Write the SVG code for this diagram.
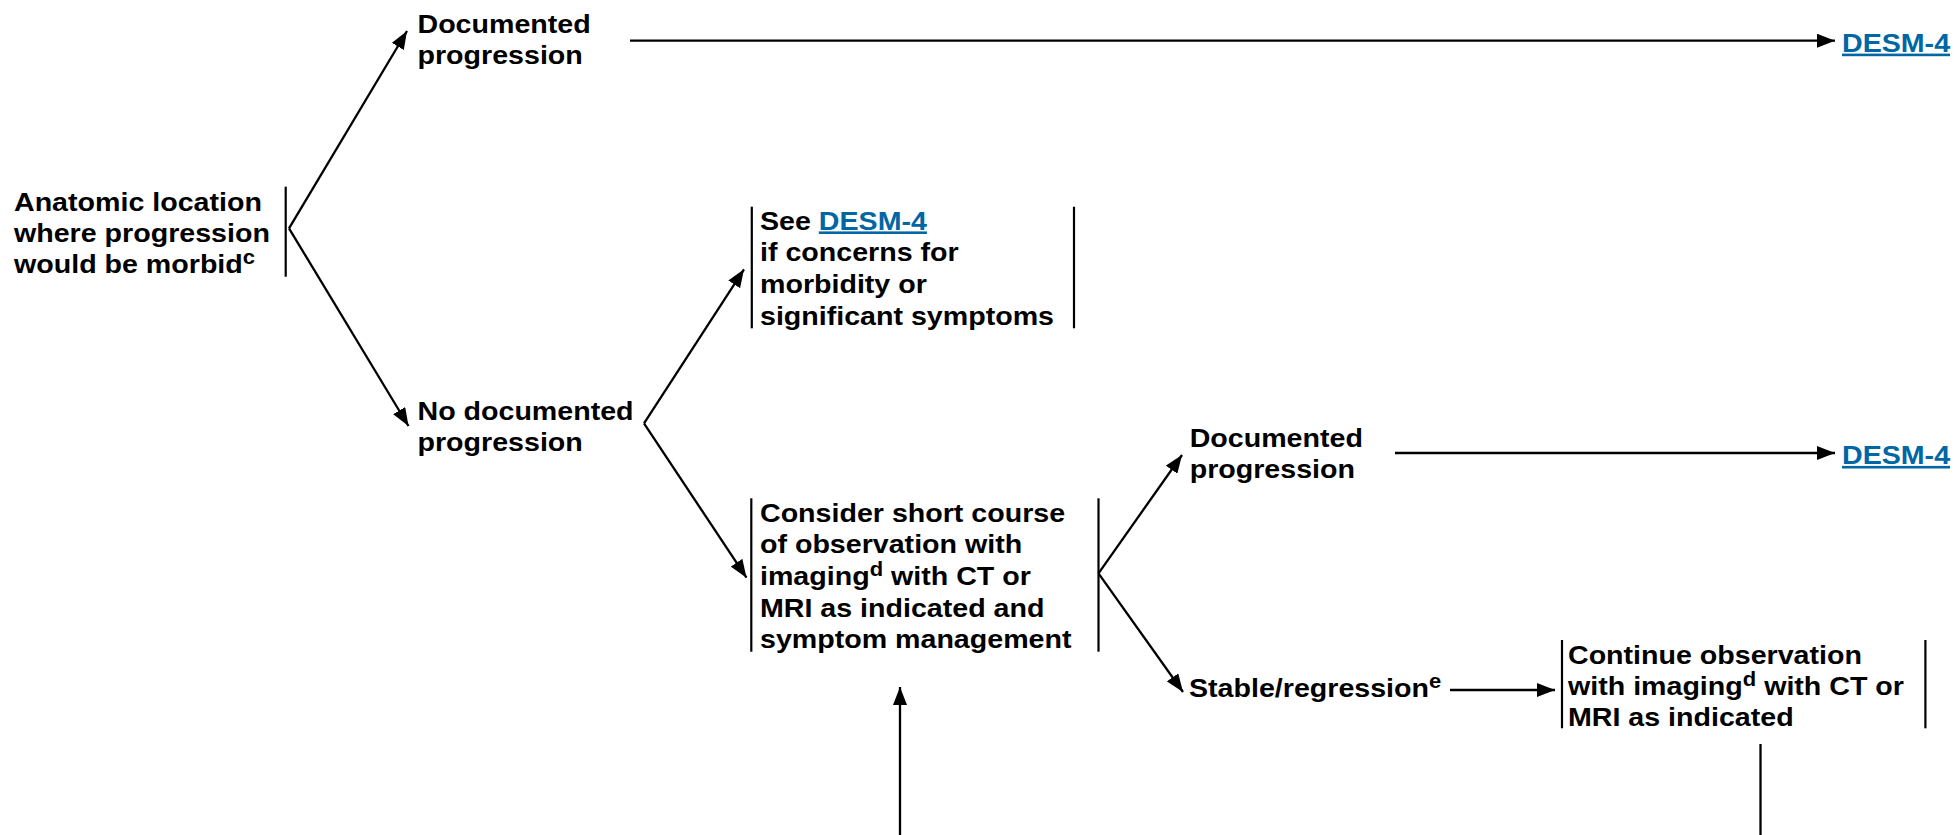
<svg xmlns="http://www.w3.org/2000/svg" width="1954" height="835" viewBox="0 0 1954 835">
  <style>
    .t { font-family: "Liberation Sans", Arial, Helvetica, sans-serif; font-weight: bold; font-size: 26px; fill: #000; }
    .sup { font-size: 20px; }
    .lk { fill: #0066A4; text-decoration: underline; }
    .bar { stroke: #000; stroke-width: 2.2; fill: none; }
    .cn { stroke: #000; stroke-width: 2.3; fill: none; }
    .ar { marker-end: url(#arrow); }
  </style>
  <defs>
    <marker id="arrow" markerUnits="userSpaceOnUse" markerWidth="18" markerHeight="14" refX="18" refY="7" orient="auto">
      <path d="M0,0 L18,7 L0,14 Z" fill="#000"/>
    </marker>
  </defs>
  <rect width="1954" height="835" fill="#fff"/>

  <!-- connectors -->
  <g id="connectors">
    <line class="cn ar" x1="289" y1="228.3" x2="407" y2="31"/>
    <line class="cn ar" x1="289" y1="228.3" x2="408.5" y2="426"/>
    <line class="cn ar" x1="630" y1="40.7" x2="1835" y2="40.7"/>
    <line class="cn ar" x1="644" y1="423.3" x2="744" y2="269.3"/>
    <line class="cn ar" x1="644" y1="423.3" x2="746.5" y2="577.7"/>
    <line class="cn ar" x1="1098.5" y1="573.3" x2="1182" y2="455"/>
    <line class="cn ar" x1="1098.5" y1="573.3" x2="1183" y2="692"/>
    <line class="cn ar" x1="1395" y1="453" x2="1835" y2="453"/>
    <line class="cn ar" x1="1450" y1="690" x2="1555" y2="690"/>
    <line class="cn" x1="1760.5" y1="744" x2="1760.5" y2="835"/>
    <line class="cn ar" x1="900" y1="835" x2="900" y2="687"/>
  </g>

  <g id="anatomic-location">
    <text class="t" transform="translate(14 210.7) scale(1.1 1)">
      <tspan x="0" y="0">Anatomic location</tspan>
      <tspan x="0" y="31.3">where progression</tspan>
      <tspan x="0" y="62.6">would be morbid<tspan class="sup" dy="-9">c</tspan></tspan>
    </text>
    <line class="bar" x1="285.7" y1="186.7" x2="285.7" y2="276.7"/>
  </g>

  <g id="documented-progression-1">
    <text class="t" transform="translate(417.5 33.3) scale(1.1 1)">
      <tspan x="0" y="0">Documented</tspan>
      <tspan x="0" y="30.7">progression</tspan>
    </text>
  </g>

  <g id="desm4-link-1">
    <text class="t lk" transform="translate(1842 51.7) scale(1.1 1)">DESM-4</text>
  </g>

  <g id="no-documented-progression">
    <text class="t" transform="translate(417.5 420) scale(1.1 1)">
      <tspan x="0" y="0">No documented</tspan>
      <tspan x="0" y="31">progression</tspan>
    </text>
  </g>

  <g id="see-desm4">
    <line class="bar" x1="751.8" y1="206.7" x2="751.8" y2="328.3"/>
    <line class="bar" x1="1074" y1="206.7" x2="1074" y2="328.3"/>
    <text class="t" transform="translate(760 229.5) scale(1.1 1)">
      <tspan x="0" y="0">See <tspan class="lk">DESM-4</tspan></tspan>
      <tspan x="0" y="31.7">if concerns for</tspan>
      <tspan x="0" y="63.4">morbidity or</tspan>
      <tspan x="0" y="95.1">significant symptoms</tspan>
    </text>
  </g>

  <g id="short-observation">
    <line class="bar" x1="751.3" y1="498.3" x2="751.3" y2="651.7"/>
    <line class="bar" x1="1098.5" y1="498.3" x2="1098.5" y2="651.7"/>
    <text class="t" transform="translate(760 521.7) scale(1.1 1)">
      <tspan x="0" y="0">Consider short course</tspan>
      <tspan x="0" y="31.7">of observation with</tspan>
      <tspan x="0" y="63.4">imaging<tspan class="sup" dy="-9">d</tspan><tspan dy="9"> with CT or</tspan></tspan>
      <tspan x="0" y="95.1">MRI as indicated and</tspan>
      <tspan x="0" y="126.8">symptom management</tspan>
    </text>
  </g>

  <g id="documented-progression-2">
    <text class="t" transform="translate(1189.7 446.7) scale(1.1 1)">
      <tspan x="0" y="0">Documented</tspan>
      <tspan x="0" y="31.6">progression</tspan>
    </text>
  </g>

  <g id="desm4-link-2">
    <text class="t lk" transform="translate(1842 464) scale(1.1 1)">DESM-4</text>
  </g>

  <g id="stable-regression">
    <text class="t" transform="translate(1189 697.3) scale(1.1 1)">Stable/regression<tspan class="sup" dy="-9">e</tspan></text>
  </g>

  <g id="continue-observation">
    <line class="bar" x1="1562" y1="640" x2="1562" y2="728.3"/>
    <line class="bar" x1="1925.4" y1="640" x2="1925.4" y2="728.3"/>
    <text class="t" transform="translate(1568 664) scale(1.1 1)">
      <tspan x="0" y="0">Continue observation</tspan>
      <tspan x="0" y="31">with imaging<tspan class="sup" dy="-9">d</tspan><tspan dy="9"> with CT or</tspan></tspan>
      <tspan x="0" y="62">MRI as indicated</tspan>
    </text>
  </g>
</svg>
